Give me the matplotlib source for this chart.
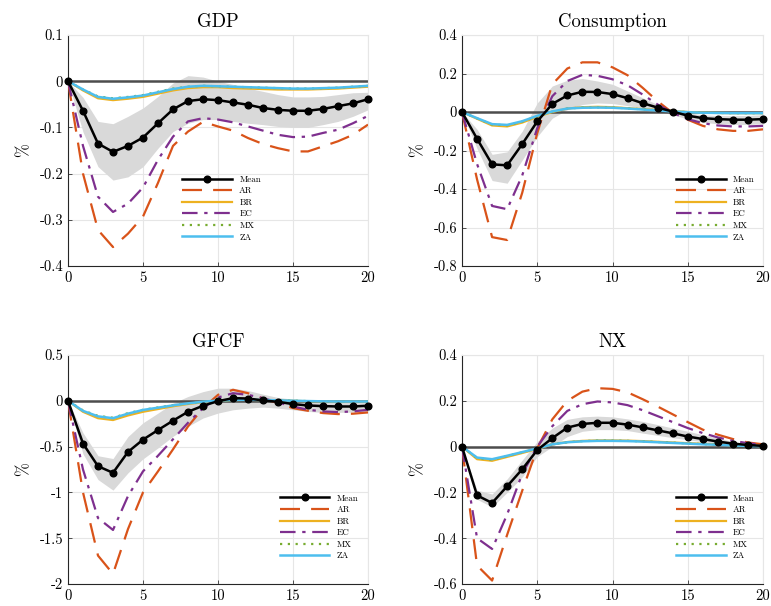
import numpy as np
import matplotlib
matplotlib.use("Agg")
import matplotlib.pyplot as plt

plt.rcParams['font.family'] = ['cmr10', 'DejaVu Serif']
plt.rcParams['mathtext.fontset'] = 'cm'
plt.rcParams['axes.unicode_minus'] = False

horizon = list(range(21))
countries = ['AR', 'BR', 'EC', 'MX', 'ZA']

# GDP
gdp_mean = [0, -0.064, -0.135, -0.153, -0.14, -0.122, -0.091, -0.061, -0.043, -0.039, -0.041,
            -0.046, -0.051, -0.058, -0.062, -0.064, -0.064, -0.060, -0.054, -0.048, -0.039]
gdp_hi = [0, -0.035, -0.087, -0.092, -0.076, -0.058, -0.033, -0.004, 0.012, 0.009, 0.0,
          -0.007, -0.015, -0.022, -0.029, -0.034, -0.034, -0.033, -0.029, -0.025, -0.024]
gdp_lo = [0, -0.11, -0.185, -0.214, -0.207, -0.185, -0.145, -0.109, -0.091, -0.083, -0.083,
          -0.087, -0.091, -0.094, -0.098, -0.1, -0.1, -0.094, -0.087, -0.076, -0.062]
gdp_ar = [0, -0.2, -0.322, -0.359, -0.33, -0.293, -0.22, -0.14, -0.109, -0.088, -0.098,
          -0.107, -0.123, -0.136, -0.145, -0.152, -0.152, -0.141, -0.13, -0.116, -0.094]
gdp_br = [0, -0.02, -0.037, -0.041, -0.038, -0.034, -0.027, -0.02, -0.015, -0.013, -0.013,
          -0.015, -0.016, -0.017, -0.018, -0.018, -0.018, -0.017, -0.016, -0.014, -0.012]
gdp_ec = [0, -0.14, -0.25, -0.283, -0.265, -0.23, -0.17, -0.12, -0.087, -0.08, -0.083,
          -0.089, -0.098, -0.107, -0.116, -0.121, -0.12, -0.112, -0.105, -0.091, -0.075]
gdp_mx = [0, -0.018, -0.033, -0.037, -0.034, -0.03, -0.023, -0.016, -0.012, -0.010, -0.011,
          -0.012, -0.013, -0.014, -0.015, -0.016, -0.016, -0.015, -0.014, -0.012, -0.010]
gdp_za = [0, -0.018, -0.034, -0.038, -0.035, -0.031, -0.024, -0.017, -0.012, -0.010, -0.011,
          -0.012, -0.013, -0.014, -0.015, -0.016, -0.016, -0.015, -0.014, -0.012, -0.010]

# Consumption
con_mean = [0, -0.139, -0.272, -0.277, -0.167, -0.049, 0.042, 0.086, 0.105, 0.104, 0.093,
            0.072, 0.046, 0.023, 0.002, -0.019, -0.032, -0.037, -0.04, -0.04, -0.037]
con_hi = [0, -0.09, -0.22, -0.207, -0.1, 0.047, 0.135, 0.165, 0.174, 0.161, 0.144,
          0.109, 0.074, 0.039, 0.012, -0.005, -0.014, -0.019, -0.019, -0.018, -0.014]
con_lo = [0, -0.19, -0.356, -0.37, -0.25, -0.128, -0.032, 0.012, 0.039, 0.047, 0.044,
          0.033, 0.021, 0.004, -0.014, -0.037, -0.054, -0.061, -0.065, -0.065, -0.061]
con_ar = [0, -0.35, -0.65, -0.665, -0.42, -0.11, 0.144, 0.226, 0.258, 0.258, 0.232,
          0.191, 0.126, 0.056, -0.005, -0.04, -0.072, -0.09, -0.098, -0.098, -0.09]
con_br = [0, -0.035, -0.07, -0.075, -0.055, -0.025, 0.0, 0.018, 0.025, 0.027, 0.025,
          0.02, 0.015, 0.01, 0.005, 0.0, -0.003, -0.005, -0.006, -0.006, -0.006]
con_ec = [0, -0.27, -0.488, -0.505, -0.33, -0.084, 0.082, 0.161, 0.193, 0.188, 0.17,
          0.139, 0.091, 0.039, -0.005, -0.037, -0.058, -0.07, -0.075, -0.075, -0.072]
con_mx = [0, -0.033, -0.065, -0.069, -0.05, -0.021, 0.002, 0.018, 0.023, 0.024, 0.023,
          0.019, 0.014, 0.009, 0.004, -0.001, -0.004, -0.005, -0.006, -0.006, -0.006]
con_za = [0, -0.032, -0.063, -0.067, -0.048, -0.02, 0.003, 0.018, 0.022, 0.023, 0.022,
          0.018, 0.013, 0.008, 0.003, -0.001, -0.004, -0.005, -0.006, -0.006, -0.006]

# GFCF
inv_mean = [0, -0.467, -0.714, -0.786, -0.558, -0.424, -0.319, -0.217, -0.12, -0.054, -0.004,
            0.029, 0.025, 0.004, -0.011, -0.036, -0.051, -0.058, -0.062, -0.062, -0.054]
inv_hi = [0, -0.35, -0.6, -0.63, -0.39, -0.24, -0.134, -0.025, 0.047, 0.1, 0.138,
          0.138, 0.112, 0.072, 0.036, 0.018, 0.004, 0.0, -0.004, -0.004, 0.0]
inv_lo = [0, -0.58, -0.86, -0.975, -0.786, -0.634, -0.514, -0.388, -0.279, -0.188, -0.134,
          -0.098, -0.08, -0.069, -0.08, -0.098, -0.116, -0.127, -0.127, -0.123, -0.116]
inv_ar = [0, -1.0, -1.69, -1.89, -1.4, -1.0, -0.77, -0.53, -0.28, -0.08, 0.065,
          0.12, 0.083, 0.025, -0.025, -0.08, -0.109, -0.134, -0.145, -0.141, -0.127]
inv_br = [0, -0.12, -0.19, -0.21, -0.16, -0.12, -0.09, -0.06, -0.035, -0.015, 0.0,
          0.008, 0.01, 0.008, 0.005, 0.0, -0.005, -0.008, -0.01, -0.01, -0.01]
inv_ec = [0, -0.75, -1.28, -1.41, -1.04, -0.77, -0.6, -0.42, -0.24, -0.08, 0.036,
          0.083, 0.065, 0.029, -0.018, -0.062, -0.098, -0.116, -0.123, -0.116, -0.098]
inv_mx = [0, -0.105, -0.165, -0.185, -0.135, -0.098, -0.073, -0.048, -0.027, -0.01, 0.003,
          0.009, 0.011, 0.009, 0.005, 0.001, -0.003, -0.006, -0.008, -0.008, -0.008]
inv_za = [0, -0.11, -0.17, -0.19, -0.14, -0.10, -0.075, -0.05, -0.028, -0.01, 0.003,
          0.009, 0.011, 0.009, 0.005, 0.001, -0.003, -0.006, -0.008, -0.008, -0.008]

# NX
nx_mean = [0, -0.213, -0.246, -0.173, -0.099, -0.015, 0.037, 0.083, 0.099, 0.104, 0.104,
           0.096, 0.084, 0.071, 0.058, 0.044, 0.033, 0.022, 0.013, 0.007, 0.003]
nx_hi = [0, -0.19, -0.207, -0.141, -0.059, 0.022, 0.081, 0.119, 0.13, 0.133, 0.13,
         0.121, 0.11, 0.096, 0.081, 0.067, 0.052, 0.037, 0.022, 0.012, 0.004]
nx_lo = [0, -0.23, -0.264, -0.2, -0.133, -0.044, 0.0, 0.044, 0.067, 0.074, 0.074,
         0.07, 0.059, 0.049, 0.039, 0.03, 0.021, 0.013, 0.007, 0.003, 0.0]
nx_ar = [0, -0.519, -0.585, -0.385, -0.193, -0.007, 0.119, 0.2, 0.24, 0.255, 0.252,
         0.237, 0.207, 0.175, 0.141, 0.107, 0.074, 0.052, 0.033, 0.018, 0.01]
nx_br = [0, -0.055, -0.062, -0.045, -0.028, -0.01, 0.01, 0.02, 0.025, 0.027, 0.027,
         0.026, 0.024, 0.021, 0.018, 0.015, 0.012, 0.009, 0.006, 0.004, 0.002]
nx_ec = [0, -0.4, -0.447, -0.296, -0.119, 0.0, 0.089, 0.156, 0.185, 0.197, 0.193,
         0.181, 0.159, 0.133, 0.107, 0.081, 0.059, 0.04, 0.025, 0.015, 0.007]
nx_mx = [0, -0.05, -0.057, -0.041, -0.025, -0.009, 0.01, 0.019, 0.024, 0.026, 0.026,
         0.025, 0.023, 0.02, 0.017, 0.014, 0.011, 0.008, 0.005, 0.003, 0.002]
nx_za = [0, -0.048, -0.055, -0.04, -0.024, -0.008, 0.01, 0.019, 0.023, 0.025, 0.025,
         0.024, 0.022, 0.019, 0.016, 0.013, 0.01, 0.008, 0.005, 0.003, 0.002]

titles = ['GDP', 'Consumption', 'GFCF', 'NX']
ylims = [(-0.4, 0.1), (-0.8, 0.4), (-2, 0.5), (-0.6, 0.4)]
ysteps = [0.1, 0.2, 0.5, 0.2]

colors = {'AR': '#D95319', 'BR': '#EDB120', 'EC': '#7E2F8E', 'MX': '#77AC30', 'ZA': '#4DBEEE'}
styles = {'AR': (0, (9, 5)), 'BR': '-', 'EC': (0, (7, 3, 1.5, 3)), 'MX': (0, (1, 2.5)), 'ZA': '-'}
widths = {'AR': 1.6, 'BR': 1.6, 'EC': 1.6, 'MX': 1.6, 'ZA': 1.8}

panels = [
    (gdp_mean, gdp_lo, gdp_hi, [gdp_ar, gdp_br, gdp_ec, gdp_mx, gdp_za]),
    (con_mean, con_lo, con_hi, [con_ar, con_br, con_ec, con_mx, con_za]),
    (inv_mean, inv_lo, inv_hi, [inv_ar, inv_br, inv_ec, inv_mx, inv_za]),
    (nx_mean, nx_lo, nx_hi, [nx_ar, nx_br, nx_ec, nx_mx, nx_za]),
]

# axes rectangles in pixels (left, top, right, bottom) and legend anchors
W, H = 771, 606
boxes = [(68, 35, 368, 266), (462, 35, 763, 266), (68, 355, 368, 584), (462, 355, 763, 584)]
leg_anchor = [(0.36, 0.42), (0.69, 0.42), (0.685, 0.42), (0.69, 0.42)]

fig = plt.figure(figsize=(W / 100, H / 100), dpi=100)

for i, (mean, lo, hi, series) in enumerate(panels):
    l, t, r, b = boxes[i]
    ax = fig.add_axes([l / W, 1 - b / H, (r - l) / W, (b - t) / H])
    ax.fill_between(horizon, lo, hi, color='#d9d9d9', linewidth=0, zorder=1)
    ax.axhline(0, color='#4d4d4d', linewidth=1.8, zorder=2)
    ax.plot(horizon, mean, color='black', linewidth=1.8, marker='o', markersize=4.8,
            markerfacecolor='black', label='Mean', zorder=5, clip_on=False)
    for c, y in zip(countries, series):
        ax.plot(horizon, y, color=colors[c], linestyle=styles[c], linewidth=widths[c],
                label=c, zorder=4)
    ax.set_xlim(0, 20)
    ax.set_ylim(*ylims[i])
    ax.set_xticks([0, 5, 10, 15, 20])
    yt = np.arange(ylims[i][0], ylims[i][1] + 1e-9, ysteps[i])
    ax.set_yticks(yt)
    ax.set_yticklabels(['%g' % (round(v, 2) + 0.0) for v in yt])
    ax.tick_params(labelsize=10.5, direction='in', length=3, width=0.6, color='#333333')
    ax.grid(True, color='#e6e6e6', linewidth=0.8)
    ax.set_axisbelow(True)
    for s in ['left', 'bottom']:
        ax.spines[s].set_color('#262626')
        ax.spines[s].set_linewidth(0.8)
    for s in ['top', 'right']:
        ax.spines[s].set_color('#e6e6e6')
        ax.spines[s].set_linewidth(0.8)
    ax.set_title(titles[i], fontsize=13.5, pad=6)
    ax.set_ylabel('%', fontsize=12, labelpad=6)
    ax.legend(loc='upper left', bbox_to_anchor=leg_anchor[i], frameon=False, fontsize=6.5,
              handlelength=5.5, handletextpad=0.8, labelspacing=0.35, borderpad=0.2)

fig.savefig('out.png', dpi=100)
